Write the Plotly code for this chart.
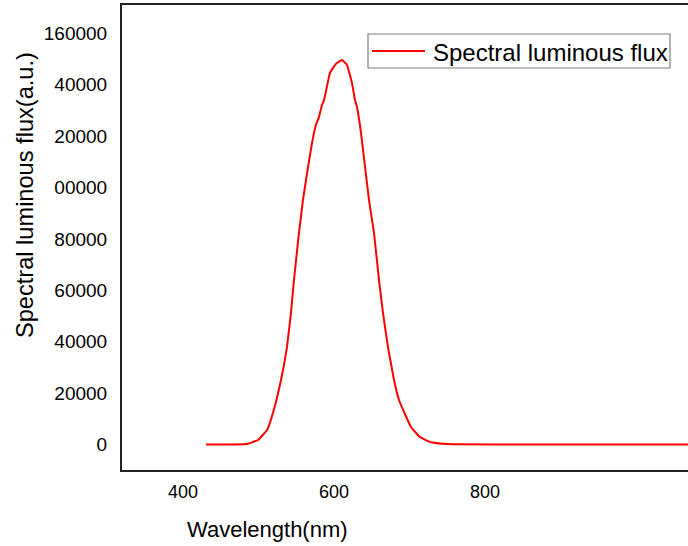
import plotly.graph_objects as go

wavelength = [430.5, 484.8, 499.3, 511.3, 519.2, 529.8, 537.7, 543.0, 547.0, 553.6,
              558.9, 565.6, 570.9, 576.0, 580.1, 584.1, 586.8, 594.7, 602.6, 610.6,
              617.2, 623.8, 627.8, 630.5, 635.8, 641.1, 646.4, 653.0, 659.6, 664.9,
              671.5, 679.5, 686.1, 702.0, 713.9, 727.2, 749.7, 1069.0]
flux = [0, 200, 1750, 5600, 12300, 25100, 37900, 51200, 64000, 82300,
        95100, 108000, 117300, 124300, 127400, 132100, 134000, 144600, 148100, 149600,
        147700, 140700, 134000, 131300, 121200, 108000, 95100, 82300, 64000, 51200,
        37900, 25100, 17300, 6800, 2900, 1000, 200, 0]

series_name = "Spectral luminous flux"
x_tickvals = [400, 600, 800]
x_ticktext = ["400", "600", "800"]
y_tickvals = [0, 20000, 40000, 60000, 80000, 100000, 120000, 140000, 160000]
y_ticktext = ["0", "20000", "40000", "60000", "80000", "00000", "20000", "40000", "160000"]

FONT = "Liberation Sans, Arial, sans-serif"
W, H = 688, 546
ML, MR, MT, MB = 122, 0, 5, 76
PW, PH = W - ML - MR, H - MB - MT


def px(x):
    return (x - ML) / PW


def py(y):
    return (H - MB - y) / PH


fig = go.Figure()
fig.add_trace(go.Scatter(
    x=wavelength, y=flux, mode="lines",
    name=series_name, showlegend=False,
    line=dict(color="#ff0000", width=2, shape="spline", smoothing=0.3),
))

# legend box (drawn to match the reference's long legend line)
shapes = [
    dict(type="rect", xref="paper", yref="paper",
         x0=px(368), x1=px(670), y0=py(68), y1=py(34),
         line=dict(color="#7f7f7f", width=1.2), fillcolor="white", layer="above"),
    dict(type="line", xref="paper", yref="paper",
         x0=px(372), x1=px(425), y0=py(51), y1=py(51),
         line=dict(color="#ff0000", width=2), layer="above"),
]

fig.update_layout(
    width=W, height=H,
    margin=dict(l=ML, r=MR, t=MT, b=MB),
    paper_bgcolor="white", plot_bgcolor="white",
    font=dict(family=FONT, color="black"),
    showlegend=False,
    shapes=shapes,
    xaxis=dict(
        range=[319.2, 1068.9],
        tickvals=x_tickvals, ticktext=x_ticktext,
        tickfont=dict(size=18, family=FONT, color="black"),
        showgrid=False, zeroline=False,
        showline=True, linecolor="#222222", linewidth=2, mirror=True,
        ticks="", ticklabelstandoff=4,
    ),
    yaxis=dict(
        range=[-9920, 171000],
        tickvals=y_tickvals, ticktext=y_ticktext,
        tickfont=dict(size=19, family=FONT, color="black"),
        showgrid=False, zeroline=False,
        showline=True, linecolor="#222222", linewidth=2,
        ticks="", ticklabelstandoff=9,
    ),
    annotations=[
        dict(text=series_name, xref="paper", yref="paper",
             x=px(431), y=py(52), xanchor="left", yanchor="middle", showarrow=False,
             font=dict(size=24, family=FONT, color="black")),
        dict(text="Wavelength(nm)", xref="paper", yref="paper",
             x=px(267), y=py(529),
             xanchor="center", yanchor="middle", showarrow=False,
             font=dict(size=22, family=FONT, color="black")),
        dict(text="Spectral luminous flux(a.u.)", xref="paper", yref="paper",
             x=px(25), y=py(195),
             xanchor="center", yanchor="middle", showarrow=False, textangle=-90,
             font=dict(size=23.6, family=FONT, color="black")),
    ],
)

fig.write_html("out.html", config={"displayModeBar": False},
               post_script="document.body.style.margin='0';document.body.style.padding='0';")
